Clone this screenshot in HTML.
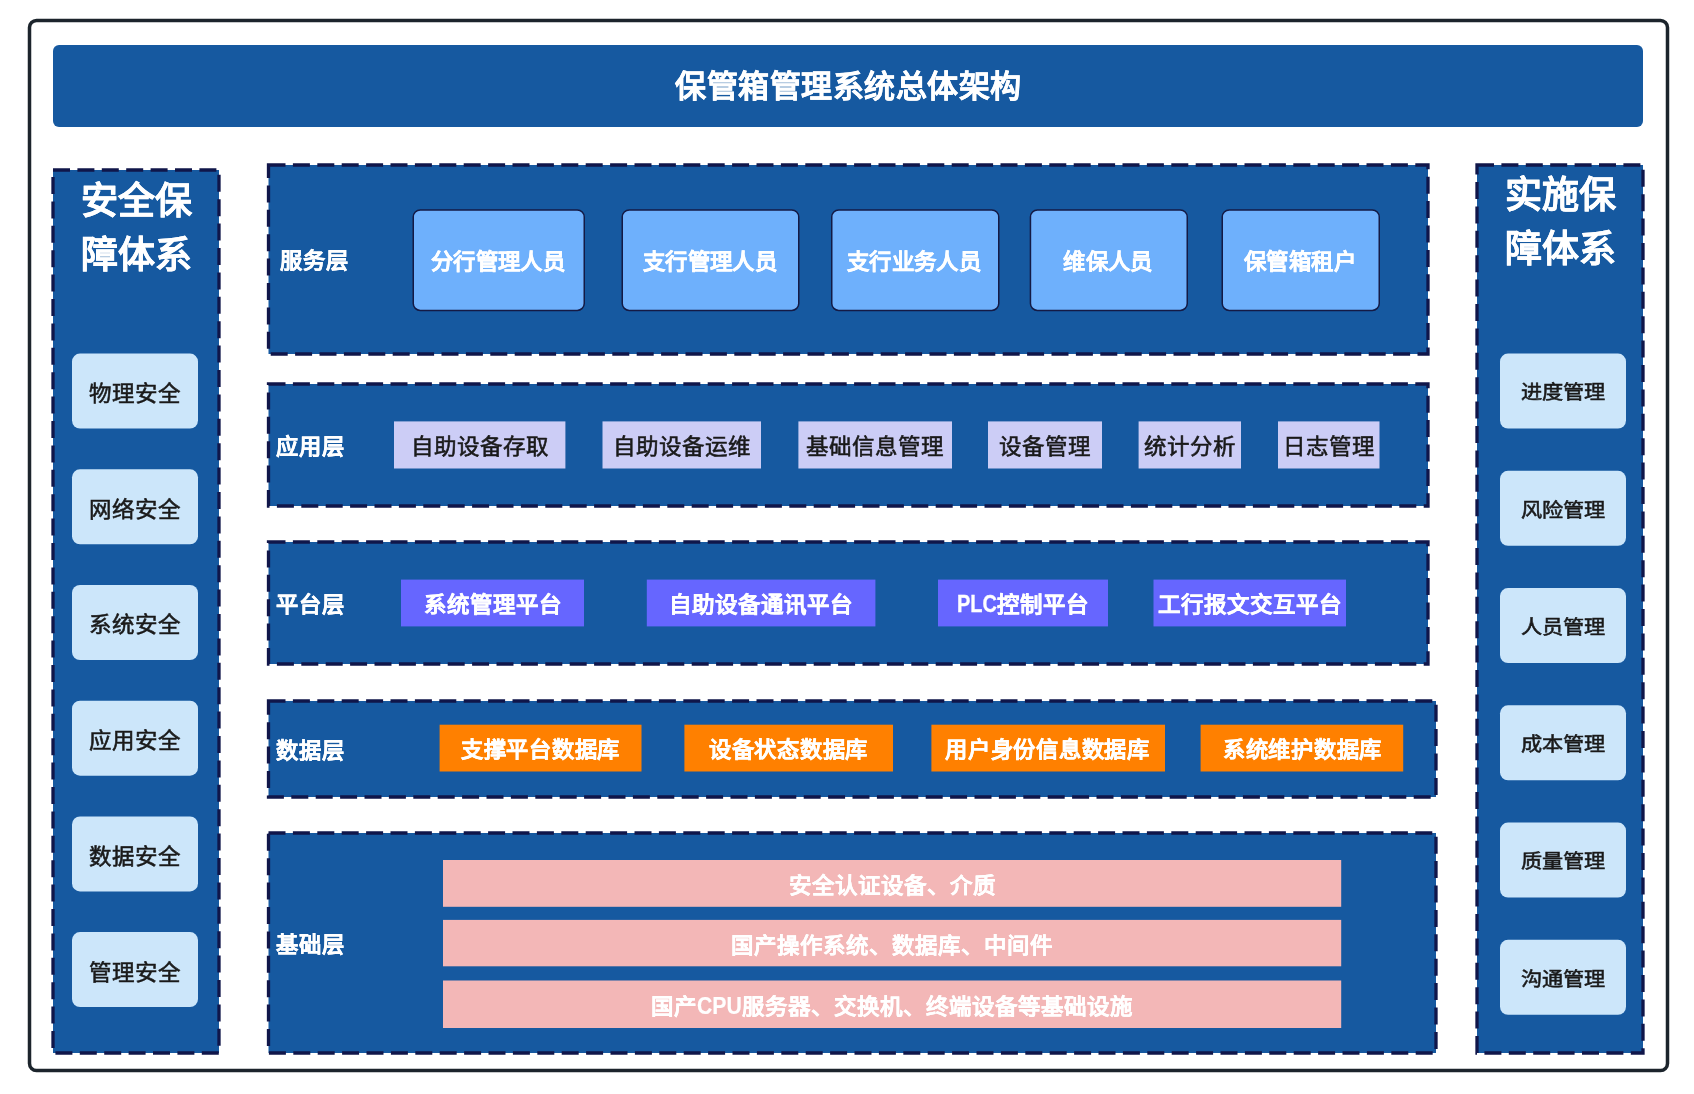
<!DOCTYPE html>
<html lang="zh-CN"><head><meta charset="utf-8"><title>保管箱管理系统总体架构</title>
<style>
html,body{margin:0;padding:0;background:#fff;width:1694px;height:1094px;overflow:hidden;}
body{position:relative;font-family:"Liberation Sans", sans-serif;}
svg{position:absolute;left:0;top:0;}
.lat{display:inline-block;font-size:25px;line-height:1px;position:relative;top:0px;}
.t{position:absolute;will-change:transform;display:flex;align-items:center;justify-content:center;text-align:center;white-space:nowrap;line-height:1;}
</style></head><body>
<svg width="1694" height="1094" viewBox="0 0 1694 1094">
<rect x="29.5" y="20.5" width="1638" height="1050" rx="7" fill="#fff" stroke="#1c242c" stroke-width="3.5"/>
<rect x="53" y="45" width="1590" height="82" fill="#1659a0" rx="6"/>
<rect x="53" y="170" width="166" height="883" fill="#1659a0"/>
<rect x="53" y="170" width="166" height="883" fill="none" stroke="#10164a" stroke-width="3.3" stroke-dasharray="17 7.4"/>
<rect x="72" y="353.6" width="126" height="75" fill="#cce6fa" rx="8"/>
<rect x="72" y="469.3" width="126" height="75" fill="#cce6fa" rx="8"/>
<rect x="72" y="585.0" width="126" height="75" fill="#cce6fa" rx="8"/>
<rect x="72" y="700.7" width="126" height="75" fill="#cce6fa" rx="8"/>
<rect x="72" y="816.4000000000001" width="126" height="75" fill="#cce6fa" rx="8"/>
<rect x="72" y="932.1" width="126" height="75" fill="#cce6fa" rx="8"/>
<rect x="1477" y="165" width="166" height="888" fill="#1659a0"/>
<rect x="1477" y="165" width="166" height="888" fill="none" stroke="#10164a" stroke-width="3.3" stroke-dasharray="17 7.4"/>
<rect x="1500" y="353.6" width="126" height="75" fill="#cce6fa" rx="8"/>
<rect x="1500" y="470.85" width="126" height="75" fill="#cce6fa" rx="8"/>
<rect x="1500" y="588.1" width="126" height="75" fill="#cce6fa" rx="8"/>
<rect x="1500" y="705.35" width="126" height="75" fill="#cce6fa" rx="8"/>
<rect x="1500" y="822.6" width="126" height="75" fill="#cce6fa" rx="8"/>
<rect x="1500" y="939.85" width="126" height="75" fill="#cce6fa" rx="8"/>
<rect x="268.5" y="165" width="1159.5" height="189" fill="#1659a0"/>
<rect x="268.5" y="165" width="1159.5" height="189" fill="none" stroke="#10164a" stroke-width="3.3" stroke-dasharray="17 7.4"/>
<rect x="413.25" y="209.95" width="171.0" height="100.5" rx="7" fill="#6eb0fc" stroke="#141a45" stroke-width="1.5"/>
<rect x="622.25" y="209.95" width="176.5" height="100.5" rx="7" fill="#6eb0fc" stroke="#141a45" stroke-width="1.5"/>
<rect x="831.75" y="209.95" width="167.0" height="100.5" rx="7" fill="#6eb0fc" stroke="#141a45" stroke-width="1.5"/>
<rect x="1030.45" y="209.95" width="156.79999999999995" height="100.5" rx="7" fill="#6eb0fc" stroke="#141a45" stroke-width="1.5"/>
<rect x="1222.25" y="209.95" width="157.0" height="100.5" rx="7" fill="#6eb0fc" stroke="#141a45" stroke-width="1.5"/>
<rect x="268.5" y="384" width="1159.5" height="122" fill="#1659a0"/>
<rect x="268.5" y="384" width="1159.5" height="122" fill="none" stroke="#10164a" stroke-width="3.3" stroke-dasharray="17 7.4"/>
<rect x="394" y="421.4" width="171.39999999999998" height="47.1" fill="#cccdf6"/>
<rect x="602.5" y="421.4" width="158.5" height="47.1" fill="#cccdf6"/>
<rect x="798.4" y="421.4" width="153.60000000000002" height="47.1" fill="#cccdf6"/>
<rect x="988" y="421.4" width="114" height="47.1" fill="#cccdf6"/>
<rect x="1138.6" y="421.4" width="102.40000000000009" height="47.1" fill="#cccdf6"/>
<rect x="1278" y="421.4" width="101.5" height="47.1" fill="#cccdf6"/>
<rect x="268.5" y="542" width="1159.5" height="122" fill="#1659a0"/>
<rect x="268.5" y="542" width="1159.5" height="122" fill="none" stroke="#10164a" stroke-width="3.3" stroke-dasharray="17 7.4"/>
<rect x="401" y="579.6" width="183" height="46.8" fill="#6666ff"/>
<rect x="646.8" y="579.6" width="228.60000000000002" height="46.8" fill="#6666ff"/>
<rect x="938" y="579.6" width="170" height="46.8" fill="#6666ff"/>
<rect x="1153.5" y="579.6" width="192.5" height="46.8" fill="#6666ff"/>
<rect x="268.5" y="701" width="1167.5" height="96" fill="#1659a0"/>
<rect x="268.5" y="701" width="1167.5" height="96" fill="none" stroke="#10164a" stroke-width="3.3" stroke-dasharray="17 7.4"/>
<rect x="439.6" y="724.7" width="201.89999999999998" height="46.8" fill="#ff8000"/>
<rect x="684.4" y="724.7" width="208.60000000000002" height="46.8" fill="#ff8000"/>
<rect x="931.4" y="724.7" width="233.60000000000002" height="46.8" fill="#ff8000"/>
<rect x="1200.6" y="724.7" width="202.60000000000014" height="46.8" fill="#ff8000"/>
<rect x="268.5" y="833" width="1167.5" height="220" fill="#1659a0"/>
<rect x="268.5" y="833" width="1167.5" height="220" fill="none" stroke="#10164a" stroke-width="3.3" stroke-dasharray="17 7.4"/>
<rect x="443" y="860" width="898.2" height="46.799999999999955" fill="#f3b7b7"/>
<rect x="443" y="919.9" width="898.2" height="46.39999999999998" fill="#f3b7b7"/>
<rect x="443" y="980.5" width="898.2" height="47.5" fill="#f3b7b7"/>
</svg>
<div class="t" style="left:53px;top:45.2px;width:1590px;height:82px;font-size:31px;color:#fff;font-weight:900;-webkit-text-stroke:0.35px #fff;letter-spacing:0.5px;text-indent:0.5px;">保管箱管理系统总体架构</div>
<div class="t" style="left:53px;top:171px;width:166px;height:120px;font-size:37px;color:#fff;font-weight:700;-webkit-text-stroke:0.3px #fff;line-height:54px;align-items:flex-start;padding-top:4px;">安全保<br>障体系</div>
<div class="t" style="left:72px;top:357.0px;width:126px;height:75px;font-size:22.5px;color:#1a1a1a;font-weight:400;-webkit-text-stroke:0.6px #1a1a1a;"><span style="display:inline-block;transform:scale(1,0.96);transform-origin:center">物理安全</span></div>
<div class="t" style="left:72px;top:472.7px;width:126px;height:75px;font-size:22.5px;color:#1a1a1a;font-weight:400;-webkit-text-stroke:0.6px #1a1a1a;"><span style="display:inline-block;transform:scale(1,0.96);transform-origin:center">网络安全</span></div>
<div class="t" style="left:72px;top:588.4px;width:126px;height:75px;font-size:22.5px;color:#1a1a1a;font-weight:400;-webkit-text-stroke:0.6px #1a1a1a;"><span style="display:inline-block;transform:scale(1,0.96);transform-origin:center">系统安全</span></div>
<div class="t" style="left:72px;top:704.1px;width:126px;height:75px;font-size:22.5px;color:#1a1a1a;font-weight:400;-webkit-text-stroke:0.6px #1a1a1a;"><span style="display:inline-block;transform:scale(1,0.96);transform-origin:center">应用安全</span></div>
<div class="t" style="left:72px;top:819.8000000000001px;width:126px;height:75px;font-size:22.5px;color:#1a1a1a;font-weight:400;-webkit-text-stroke:0.6px #1a1a1a;"><span style="display:inline-block;transform:scale(1,0.96);transform-origin:center">数据安全</span></div>
<div class="t" style="left:72px;top:935.5px;width:126px;height:75px;font-size:22.5px;color:#1a1a1a;font-weight:400;-webkit-text-stroke:0.6px #1a1a1a;"><span style="display:inline-block;transform:scale(1,0.96);transform-origin:center">管理安全</span></div>
<div class="t" style="left:1477px;top:164.8px;width:166px;height:120px;font-size:37px;color:#fff;font-weight:700;-webkit-text-stroke:0.3px #fff;line-height:54px;align-items:flex-start;padding-top:4px;">实施保<br>障体系</div>
<div class="t" style="left:1500px;top:355.40000000000003px;width:126px;height:75px;font-size:21px;color:#1a1a1a;font-weight:400;-webkit-text-stroke:0.6px #1a1a1a;"><span style="display:inline-block;transform:scale(1.01,0.93);transform-origin:center">进度管理</span></div>
<div class="t" style="left:1500px;top:472.65000000000003px;width:126px;height:75px;font-size:21px;color:#1a1a1a;font-weight:400;-webkit-text-stroke:0.6px #1a1a1a;"><span style="display:inline-block;transform:scale(1.01,0.93);transform-origin:center">风险管理</span></div>
<div class="t" style="left:1500px;top:589.9px;width:126px;height:75px;font-size:21px;color:#1a1a1a;font-weight:400;-webkit-text-stroke:0.6px #1a1a1a;"><span style="display:inline-block;transform:scale(1.01,0.93);transform-origin:center">人员管理</span></div>
<div class="t" style="left:1500px;top:707.15px;width:126px;height:75px;font-size:21px;color:#1a1a1a;font-weight:400;-webkit-text-stroke:0.6px #1a1a1a;"><span style="display:inline-block;transform:scale(1.01,0.93);transform-origin:center">成本管理</span></div>
<div class="t" style="left:1500px;top:824.4px;width:126px;height:75px;font-size:21px;color:#1a1a1a;font-weight:400;-webkit-text-stroke:0.6px #1a1a1a;"><span style="display:inline-block;transform:scale(1.01,0.93);transform-origin:center">质量管理</span></div>
<div class="t" style="left:1500px;top:941.65px;width:126px;height:75px;font-size:21px;color:#1a1a1a;font-weight:400;-webkit-text-stroke:0.6px #1a1a1a;"><span style="display:inline-block;transform:scale(1.01,0.93);transform-origin:center">沟通管理</span></div>
<div class="t" style="left:280px;top:167.3px;width:80px;height:189px;font-size:22.5px;color:#fff;font-weight:700;-webkit-text-stroke:0.3px #fff;justify-content:flex-start;"><span style="display:inline-block;transform:scale(0.99,0.96);transform-origin:left center">服务层</span></div>
<div class="t" style="left:411.5px;top:210.7px;width:172.5px;height:102px;font-size:22px;color:#fff;font-weight:700;-webkit-text-stroke:0.3px #fff;"><span style="display:inline-block;transform:scale(1.02,1.0);transform-origin:center">分行管理人员</span></div>
<div class="t" style="left:620.5px;top:210.7px;width:178.0px;height:102px;font-size:22px;color:#fff;font-weight:700;-webkit-text-stroke:0.3px #fff;"><span style="display:inline-block;transform:scale(1.02,1.0);transform-origin:center">支行管理人员</span></div>
<div class="t" style="left:830px;top:210.7px;width:168.5px;height:102px;font-size:22px;color:#fff;font-weight:700;-webkit-text-stroke:0.3px #fff;"><span style="display:inline-block;transform:scale(1.02,1.0);transform-origin:center">支行业务人员</span></div>
<div class="t" style="left:1028.7px;top:210.7px;width:158.29999999999995px;height:102px;font-size:22px;color:#fff;font-weight:700;-webkit-text-stroke:0.3px #fff;"><span style="display:inline-block;transform:scale(1.02,1.0);transform-origin:center">维保人员</span></div>
<div class="t" style="left:1220.5px;top:210.7px;width:158.5px;height:102px;font-size:22px;color:#fff;font-weight:700;-webkit-text-stroke:0.3px #fff;"><span style="display:inline-block;transform:scale(1.02,1.0);transform-origin:center">保管箱租户</span></div>
<div class="t" style="left:276px;top:386.3px;width:80px;height:122px;font-size:22.5px;color:#fff;font-weight:700;-webkit-text-stroke:0.3px #fff;justify-content:flex-start;"><span style="display:inline-block;transform:scale(0.99,0.96);transform-origin:left center">应用层</span></div>
<div class="t" style="left:394px;top:423.7px;width:171.39999999999998px;height:47.1px;font-size:22.5px;color:#1a1a1a;font-weight:400;-webkit-text-stroke:0.6px #1a1a1a;"><span style="display:inline-block;transform:scale(1,0.94);transform-origin:center">自助设备存取</span></div>
<div class="t" style="left:602.5px;top:423.7px;width:158.5px;height:47.1px;font-size:22.5px;color:#1a1a1a;font-weight:400;-webkit-text-stroke:0.6px #1a1a1a;"><span style="display:inline-block;transform:scale(1,0.94);transform-origin:center">自助设备运维</span></div>
<div class="t" style="left:798.4px;top:423.7px;width:153.60000000000002px;height:47.1px;font-size:22.5px;color:#1a1a1a;font-weight:400;-webkit-text-stroke:0.6px #1a1a1a;"><span style="display:inline-block;transform:scale(1,0.94);transform-origin:center">基础信息管理</span></div>
<div class="t" style="left:988px;top:423.7px;width:114px;height:47.1px;font-size:22.5px;color:#1a1a1a;font-weight:400;-webkit-text-stroke:0.6px #1a1a1a;"><span style="display:inline-block;transform:scale(1,0.94);transform-origin:center">设备管理</span></div>
<div class="t" style="left:1138.6px;top:423.7px;width:102.40000000000009px;height:47.1px;font-size:22.5px;color:#1a1a1a;font-weight:400;-webkit-text-stroke:0.6px #1a1a1a;"><span style="display:inline-block;transform:scale(1,0.94);transform-origin:center">统计分析</span></div>
<div class="t" style="left:1278px;top:423.7px;width:101.5px;height:47.1px;font-size:22.5px;color:#1a1a1a;font-weight:400;-webkit-text-stroke:0.6px #1a1a1a;"><span style="display:inline-block;transform:scale(1,0.94);transform-origin:center">日志管理</span></div>
<div class="t" style="left:276px;top:544.3px;width:80px;height:122px;font-size:22.5px;color:#fff;font-weight:700;-webkit-text-stroke:0.3px #fff;justify-content:flex-start;"><span style="display:inline-block;transform:scale(0.99,0.96);transform-origin:left center">平台层</span></div>
<div class="t" style="left:401px;top:581.5px;width:183px;height:46.8px;font-size:22.5px;color:#fff;font-weight:700;-webkit-text-stroke:0.3px #fff;"><span style="display:inline-block;transform:scale(1,0.95);transform-origin:center">系统管理平台</span></div>
<div class="t" style="left:646.8px;top:581.5px;width:228.60000000000002px;height:46.8px;font-size:22.5px;color:#fff;font-weight:700;-webkit-text-stroke:0.3px #fff;"><span style="display:inline-block;transform:scale(1,0.95);transform-origin:center">自助设备通讯平台</span></div>
<div class="t" style="left:938px;top:581.5px;width:170px;height:46.8px;font-size:22.5px;color:#fff;font-weight:700;-webkit-text-stroke:0.3px #fff;"><span style="display:inline-block;transform:scale(1,0.95);transform-origin:center"><span class="lat" style="transform:scaleX(0.80);margin:0 -5px">PLC</span>控制平台</span></div>
<div class="t" style="left:1153.5px;top:581.5px;width:192.5px;height:46.8px;font-size:22.5px;color:#fff;font-weight:700;-webkit-text-stroke:0.3px #fff;"><span style="display:inline-block;transform:scale(1,0.95);transform-origin:center">工行报文交互平台</span></div>
<div class="t" style="left:276px;top:703.3px;width:80px;height:96px;font-size:22.5px;color:#fff;font-weight:700;-webkit-text-stroke:0.3px #fff;justify-content:flex-start;"><span style="display:inline-block;transform:scale(0.99,0.96);transform-origin:left center">数据层</span></div>
<div class="t" style="left:439.6px;top:727.0px;width:201.89999999999998px;height:46.8px;font-size:22.5px;color:#fff;font-weight:700;-webkit-text-stroke:0.3px #fff;"><span style="display:inline-block;transform:scale(0.99,0.96);transform-origin:center">支撑平台数据库</span></div>
<div class="t" style="left:684.4px;top:727.0px;width:208.60000000000002px;height:46.8px;font-size:22.5px;color:#fff;font-weight:700;-webkit-text-stroke:0.3px #fff;"><span style="display:inline-block;transform:scale(0.99,0.96);transform-origin:center">设备状态数据库</span></div>
<div class="t" style="left:931.4px;top:727.0px;width:233.60000000000002px;height:46.8px;font-size:22.5px;color:#fff;font-weight:700;-webkit-text-stroke:0.3px #fff;"><span style="display:inline-block;transform:scale(0.99,0.96);transform-origin:center">用户身份信息数据库</span></div>
<div class="t" style="left:1200.6px;top:727.0px;width:202.60000000000014px;height:46.8px;font-size:22.5px;color:#fff;font-weight:700;-webkit-text-stroke:0.3px #fff;"><span style="display:inline-block;transform:scale(0.99,0.96);transform-origin:center">系统维护数据库</span></div>
<div class="t" style="left:276px;top:835.3px;width:80px;height:220px;font-size:22.5px;color:#fff;font-weight:700;-webkit-text-stroke:0.3px #fff;justify-content:flex-start;"><span style="display:inline-block;transform:scale(0.99,0.96);transform-origin:left center">基础层</span></div>
<div class="t" style="left:443px;top:862.8px;width:898.2px;height:46.799999999999955px;font-size:22.5px;color:#fff;font-weight:700;-webkit-text-stroke:0.15px #fff;"><span style="display:inline-block;transform:scale(1,0.95);transform-origin:center">安全认证设备、介质</span></div>
<div class="t" style="left:443px;top:922.6999999999999px;width:898.2px;height:46.39999999999998px;font-size:22.5px;color:#fff;font-weight:700;-webkit-text-stroke:0.15px #fff;"><span style="display:inline-block;transform:scale(1,0.95);transform-origin:center">国产操作系统、数据库、中间件</span></div>
<div class="t" style="left:443px;top:983.3px;width:898.2px;height:47.5px;font-size:22.5px;color:#fff;font-weight:700;-webkit-text-stroke:0.15px #fff;"><span style="display:inline-block;transform:scale(1,0.95);transform-origin:center">国产<span class="lat" style="transform:scaleX(0.85);margin:0 -4px">CPU</span>服务器、交换机、终端设备等基础设施</span></div>
</body></html>
